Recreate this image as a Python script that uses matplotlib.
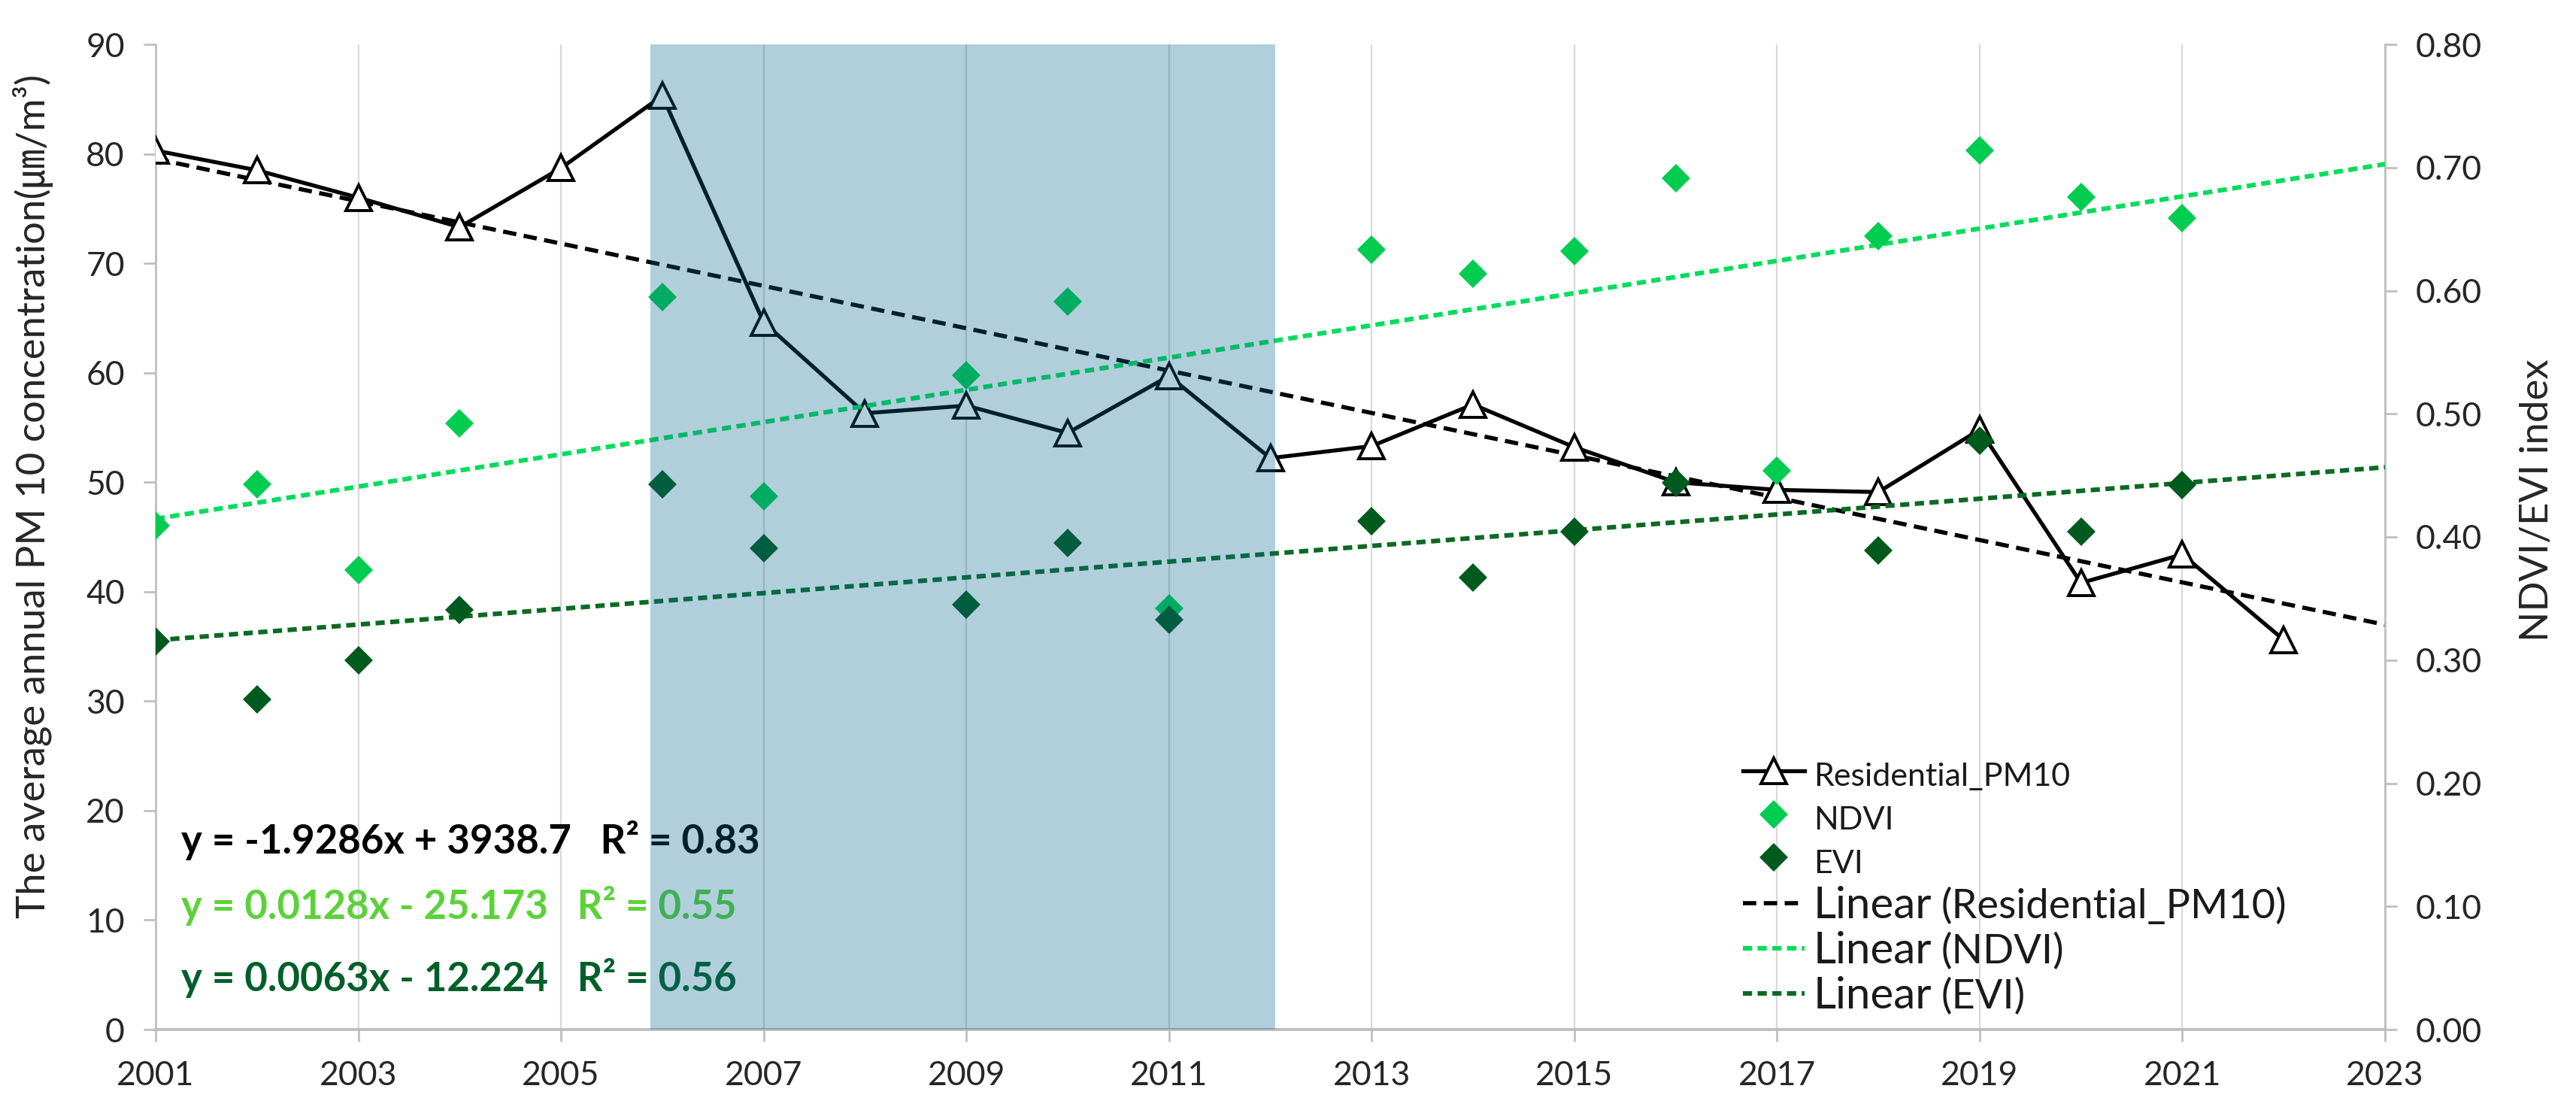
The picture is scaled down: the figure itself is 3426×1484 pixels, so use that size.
import numpy as np
import matplotlib
matplotlib.use('Agg')
import matplotlib.pyplot as plt
from matplotlib.ticker import FormatStrFormatter

nan = np.nan
years = list(range(2001, 2023))
pm10 = [80.3, 78.5, 76.0, 73.3, 78.7, 85.3, 64.6, 56.3, 57.0, 54.5, 59.7, 52.2,
        53.3, 57.1, 53.2, 50.0, 49.3, 49.1, 54.8, 40.8, 43.4, 35.6]
ndvi = [0.409, 0.443, 0.373, 0.492, nan, 0.595, 0.433, nan, 0.531, 0.591, 0.342, nan,
        0.633, 0.614, 0.632, 0.691, 0.454, 0.644, 0.714, 0.676, 0.659, nan]
evi = [0.315, 0.268, 0.300, 0.341, nan, 0.443, 0.391, nan, 0.345, 0.395, 0.333, nan,
       0.413, 0.367, 0.404, 0.444, nan, 0.389, 0.478, 0.404, 0.442, nan]

x_ticks = list(range(2001, 2024, 2))
left_ticks = list(range(0, 91, 10))
right_ticks = [0.0, 0.1, 0.2, 0.3, 0.4, 0.5, 0.6, 0.7, 0.8]
trend_range = [2001, 2023]
shade_period = [2005.88, 2012.05]

series_names = ['Residential_PM10', 'NDVI', 'EVI']
trend_suffix = ['(Residential_PM10)', '(NDVI)', '(EVI)']
equations = ['y = -1.9286x + 3938.7   R² = 0.83',
             'y = 0.0128x - 25.173   R² = 0.55',
             'y = 0.0063x - 12.224   R² = 0.56']
eq_colors = ['#000000', '#5CD23A', '#005F28']
eq_y = [17.3, 11.3, 4.7]

left_label = 'The average annual PM 10 concentration(㎛/m³)'
right_label = 'NDVI/EVI index'

plt.rcParams['font.family'] = ['Lato', 'Noto Sans CJK KR', 'DejaVu Sans']

W, H = 3426, 1484
fig = plt.figure(figsize=(W / 200, H / 200), dpi=200)
L, R, B, T = 207 / W, 3172 / W, 1 - 1369 / H, 1 - 59 / H
ax = fig.add_axes([L, B, R - L, T - B])
ax2 = ax.twinx()

grid_color = '#D9D9D9'
spine_color = '#BFBFBF'
text_color = '#262626'
ndvi_color = '#00CC50'
evi_color = '#005A1E'

ax.set_xlim(2001, 2023)
ax.set_ylim(0, 90)
ax2.set_ylim(0, 0.8)
ax.set_xticks(x_ticks)
ax.set_yticks(left_ticks)
ax2.set_yticks(right_ticks)
ax2.yaxis.set_major_formatter(FormatStrFormatter('%.2f'))

for a in (ax, ax2):
    for s in a.spines.values():
        s.set_color(spine_color)
        s.set_linewidth(1.0)
    a.spines['top'].set_visible(False)
ax.spines['right'].set_visible(False)
ax2.spines['left'].set_visible(False)
ax2.spines['bottom'].set_visible(False)
ax.spines['bottom'].set_linewidth(1.4)

ax.tick_params(axis='both', colors=spine_color, labelcolor=text_color, length=5.8,
               width=1.0, labelsize=16, pad=9)
ax2.tick_params(axis='y', colors=spine_color, labelcolor=text_color, length=5.8,
                width=1.0, labelsize=16, pad=9)
ax.xaxis.grid(True, color=grid_color, lw=0.8)
ax.set_axisbelow(True)

tx = np.array(trend_range, dtype=float)
yrs = np.array(years, dtype=float)

def fit(vals):
    v = np.array(vals, dtype=float)
    m = ~np.isnan(v)
    p = np.polyfit(yrs[m], v[m], 1)
    return np.polyval(p, tx)

h_tr_pm, = ax.plot(tx, fit(pm10), color='black', lw=2.0, dashes=(3.2, 1.8), zorder=2)
h_pm, = ax.plot(years, pm10, color='black', lw=1.9, marker='^', ms=12.5,
                mfc='white', mec='black', mew=1.4, zorder=3)

h_ndvi, = ax2.plot(years, ndvi, ls='none', marker='D', ms=9.8, color=ndvi_color, mew=0, zorder=4)
h_evi, = ax2.plot(years, evi, ls='none', marker='D', ms=9.8, color=evi_color, mew=0, zorder=4)
h_tr_ndvi, = ax2.plot(tx, fit(ndvi), color='#00DD5A', lw=2.2, dashes=(2.0, 1.2), zorder=3)
h_tr_evi, = ax2.plot(tx, fit(evi), color='#0A6A25', lw=2.2, dashes=(2.0, 1.2), zorder=3)

for txt, c, yy in zip(equations, eq_colors, eq_y):
    ax.text(2001.25, yy, txt, color=c, fontsize=19, fontweight='bold', va='center',
            ha='left', zorder=1)

ax2.axvspan(shade_period[0], shade_period[1], color='#00648B', alpha=0.31, lw=0, zorder=10)

handles = [h_pm, h_ndvi, h_evi, h_tr_pm, h_tr_ndvi, h_tr_evi]
labels = series_names + ['Linear', 'Linear', 'Linear']
leg = ax2.legend(handles, labels, loc='lower left', bbox_to_anchor=(0.712, 0.012),
                 frameon=False, fontsize=15.5, handlelength=1.9, handletextpad=0.28,
                 handleheight=1.5, labelspacing=0.12, borderaxespad=0, borderpad=0,
                 numpoints=1)
leg.set_zorder(20)
for t in leg.get_texts()[3:]:
    t.set_fontsize(21)
for t in leg.get_texts():
    t.set_color('#1a1a1a')

fig.text(44 / W, 1 - 660 / H, left_label, rotation=90, ha='center', va='center',
         fontsize=19, color=text_color)
fig.text(3375 / W, 1 - 665 / H, right_label, rotation=90, ha='center', va='center',
         fontsize=19, color=text_color)

fig.canvas.draw()
renderer = fig.canvas.get_renderer()
inv = fig.transFigure.inverted()
for t, suf in zip(leg.get_texts()[3:], trend_suffix):
    bb = t.get_window_extent(renderer)
    _, _, d = renderer.get_text_width_height_descent('lp', t.get_fontproperties(), ismath=False)
    px, py = inv.transform((bb.x1 + 12, bb.y0 + d))
    fig.text(px, py, suf, fontsize=19.5, va='baseline', ha='left', color='#1a1a1a')

fig.savefig('out.png', dpi=200)
